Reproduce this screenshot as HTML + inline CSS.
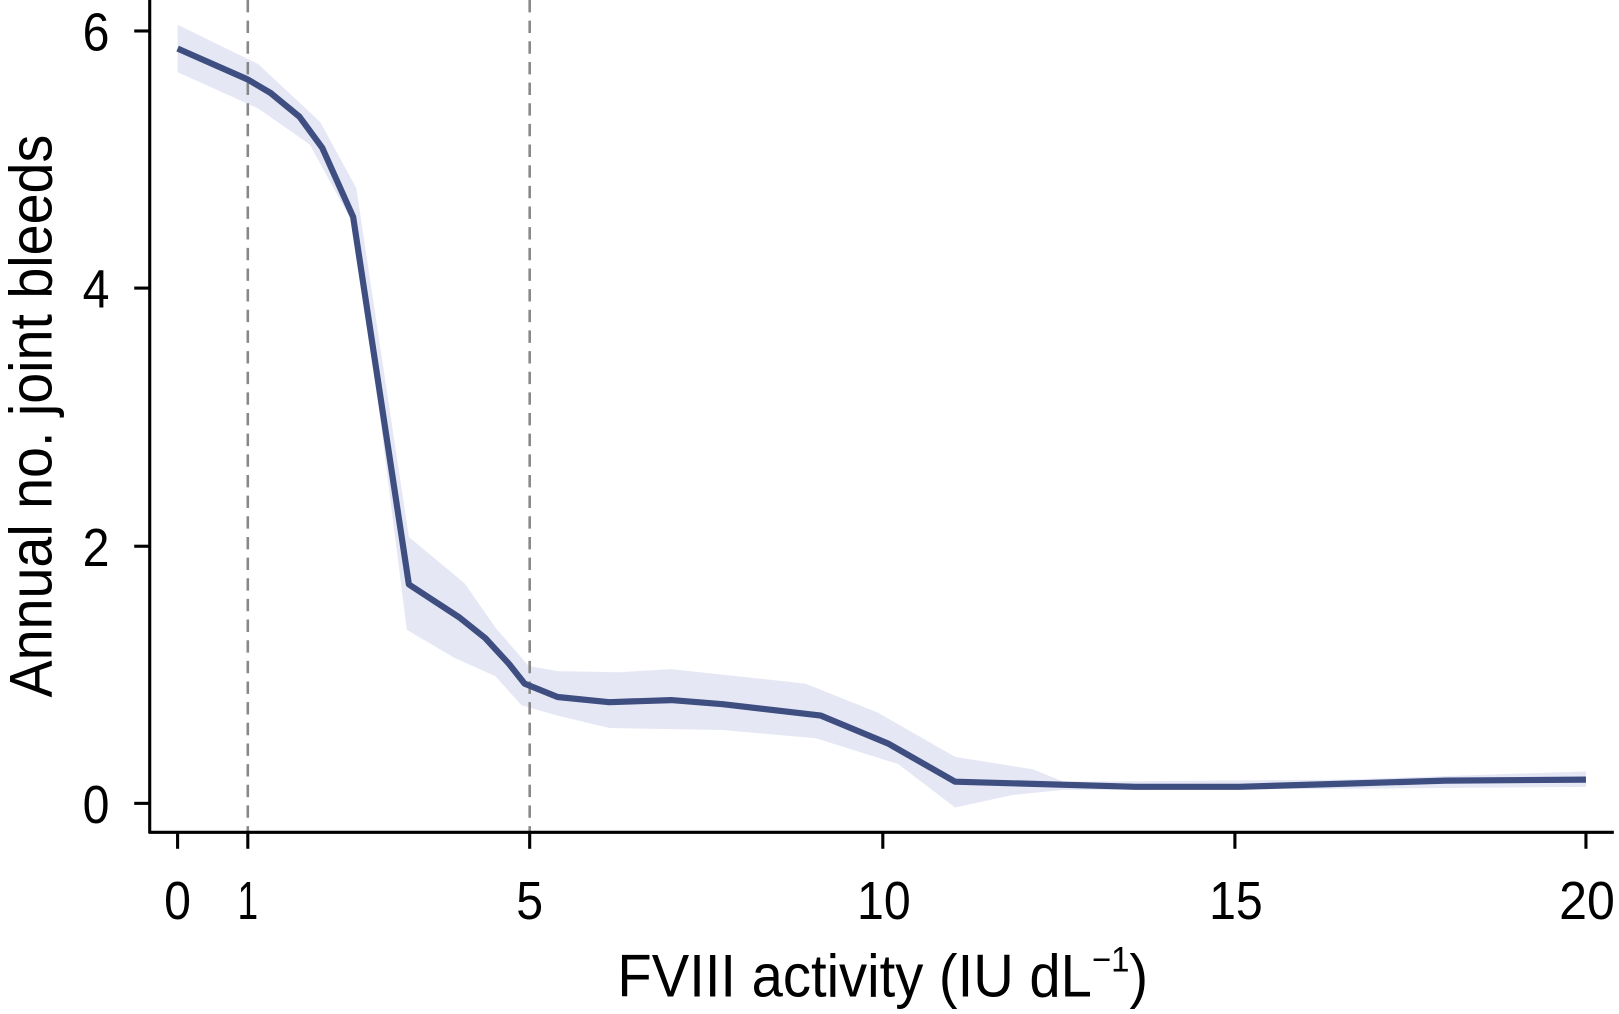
<!DOCTYPE html>
<html><head><style>html,body{margin:0;padding:0;background:#fff}svg{display:block}</style></head>
<body>
<svg width="1619" height="1014" viewBox="0 0 1568 982" preserveAspectRatio="none" xmlns="http://www.w3.org/2000/svg" font-family="Liberation Sans, sans-serif">
<polygon fill="#e5e7f5" points="172,24 250,62 310,118 345,182 396,520 450,565 480,608 512,645 540,650 600,651 650,648 780,662 850,690 925,733 1000,745 1030,757 1300,755 1536,747 1536,762 1300,764 1030,765 980,770 925,782 870,740 790,715 700,707 590,705 540,693 505,683 480,655 440,637 394,610 345,222 300,140 250,105 172,70"/>
<line x1="240" y1="0" x2="240" y2="806" stroke="#888" stroke-width="2.5" stroke-dasharray="12,8"/>
<line x1="513" y1="0" x2="513" y2="806" stroke="#888" stroke-width="2.5" stroke-dasharray="12,8"/>
<polyline fill="none" stroke="#3f4e80" stroke-width="6" stroke-linejoin="round" points="172,47 240,77 262,90 290,113 312,143 342,210 396,566 445,598 470,618 493,643 508,662 540,675 590,680 650,678 700,682 795,693 860,720 925,757 1100,762 1200,762 1300,759 1400,756 1536,755"/>
<g stroke="#000" stroke-width="3">
<line x1="145" y1="0" x2="145" y2="807"/>
<line x1="144" y1="806" x2="1563" y2="806"/>
<line x1="130" y1="30" x2="145" y2="30"/><line x1="130" y1="279" x2="145" y2="279"/>
<line x1="130" y1="529" x2="145" y2="529"/><line x1="130" y1="778" x2="145" y2="778"/>
<line x1="172" y1="806" x2="172" y2="822"/><line x1="240" y1="806" x2="240" y2="822"/>
<line x1="513" y1="806" x2="513" y2="822"/><line x1="855" y1="806" x2="855" y2="822"/>
<line x1="1196" y1="806" x2="1196" y2="822"/><line x1="1536" y1="806" x2="1536" y2="822"/>
</g>
<g font-size="52" text-anchor="end">
<text x="106" y="49" textLength="26" lengthAdjust="spacingAndGlyphs">6</text>
<text x="106" y="298" textLength="26" lengthAdjust="spacingAndGlyphs">4</text>
<text x="106" y="548" textLength="26" lengthAdjust="spacingAndGlyphs">2</text>
<text x="106" y="797" textLength="26" lengthAdjust="spacingAndGlyphs">0</text>
</g>
<g font-size="52" text-anchor="middle">
<text x="172" y="890" textLength="26" lengthAdjust="spacingAndGlyphs">0</text>
<text x="240" y="890" textLength="20" lengthAdjust="spacingAndGlyphs">1</text>
<text x="513" y="890" textLength="26" lengthAdjust="spacingAndGlyphs">5</text>
<text x="856" y="890" textLength="52" lengthAdjust="spacingAndGlyphs">10</text>
<text x="1197" y="890" textLength="52" lengthAdjust="spacingAndGlyphs">15</text>
<text x="1537" y="890" textLength="54" lengthAdjust="spacingAndGlyphs">20</text>
</g>
<text x="598" y="965" font-size="58" textLength="514" lengthAdjust="spacingAndGlyphs">FVIII activity (IU dL<tspan font-size="34" dy="-24">−1</tspan><tspan dy="24">)</tspan></text>
<text transform="translate(50,403) rotate(-90)" font-size="58" text-anchor="middle" textLength="545" lengthAdjust="spacingAndGlyphs">Annual no. joint bleeds</text>
</svg>
</body></html>
